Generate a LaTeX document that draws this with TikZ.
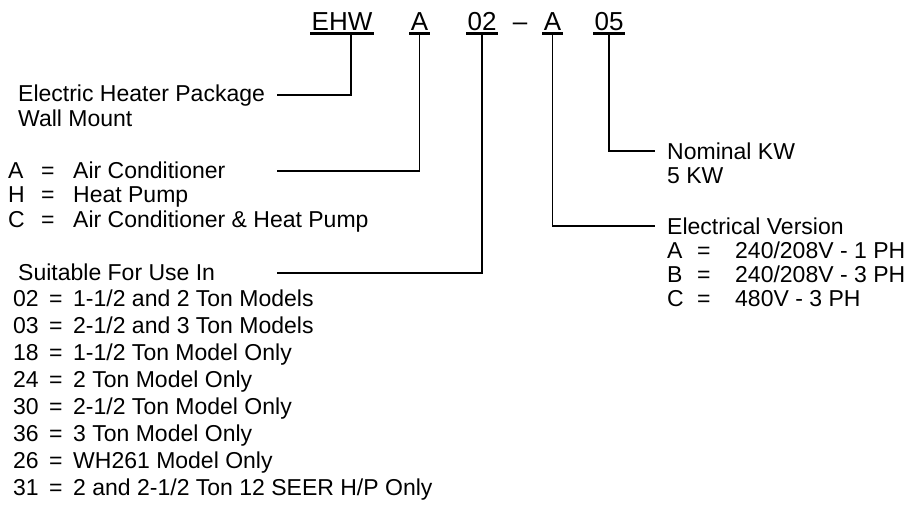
\documentclass[tikz,border=0pt]{standalone}
\usepackage{fontspec}
\setmainfont{Liberation Sans}
\newcommand\kvline[4]{\makebox[#2][l]{#1}\makebox[#3][l]{=}#4}
\begin{document}
\begin{tikzpicture}[x=1pt,y=-1pt,
  lbl/.style={anchor=base west,inner sep=0pt,font=\fontsize{23}{27}\selectfont},
  code/.style={anchor=base,inner xsep=1.2pt,inner ysep=0pt,text depth=3pt,font=\fontsize{26}{30}\selectfont},
  ul/.style={line width=2.6pt},
  conn/.style={line width=1.5pt}]
\useasboundingbox (0,0) rectangle (912,508);
% code row
\node[code] (ehw) at (342,30.5) {EHW};
\node[code] (a1)  at (419.5,30.5) {A};
\node[code] (n02) at (482,30.5) {02};
\node[code,inner ysep=0pt,text depth=0pt] (dash) at (520,30.5) {–};
\node[code] (a2)  at (552.5,30.5) {A};
\node[code] (n05) at (609,30.5) {05};
\foreach \n in {ehw,a1,n02,a2,n05}{
  \draw[ul] (\n.south west) -- (\n.south east);
}
% left labels
\node[lbl] (elec) at (18,102) {Electric Heater Package};
\node[lbl] (wall) at (18,126) {Wall Mount};
\node[lbl] (ac) at (8,178) {\kvline{A}{33pt}{32pt}{Air Conditioner}};
\node[lbl] (hp) at (8,202.5) {\kvline{H}{33pt}{32pt}{Heat Pump}};
\node[lbl] (ach) at (8,227) {\kvline{C}{33pt}{32pt}{Air Conditioner \& Heat Pump}};
\node[lbl] (suit) at (18,280) {Suitable For Use In};
\node[lbl] (s02) at (13,306) {\kvline{02}{36pt}{24pt}{1-1/2 and 2 Ton Models}};
\node[lbl] (s03) at (13,333) {\kvline{03}{36pt}{24pt}{2-1/2 and 3 Ton Models}};
\node[lbl] (s18) at (13,360) {\kvline{18}{36pt}{24pt}{1-1/2 Ton Model Only}};
\node[lbl] (s24) at (13,387) {\kvline{24}{36pt}{24pt}{2 Ton Model Only}};
\node[lbl] (s30) at (13,414) {\kvline{30}{36pt}{24pt}{2-1/2 Ton Model Only}};
\node[lbl] (s36) at (13,441) {\kvline{36}{36pt}{24pt}{3 Ton Model Only}};
\node[lbl] (s26) at (13,468) {\kvline{26}{36pt}{24pt}{WH261 Model Only}};
\node[lbl] (s31) at (13,495) {\kvline{31}{36pt}{24pt}{2 and 2-1/2 Ton 12 SEER H/P Only}};
% right labels
\node[lbl] (nom) at (667,159) {Nominal KW};
\node[lbl] (kw5) at (667,183) {5 KW};
\node[lbl] (ev) at (667,234) {Electrical Version};
\node[lbl] (evA) at (667,258) {\kvline{A}{30pt}{38pt}{240/208V - 1 PH}};
\node[lbl] (evB) at (667,282) {\kvline{B}{30pt}{38pt}{240/208V - 3 PH}};
\node[lbl] (evC) at (667,306) {\kvline{C}{30pt}{38pt}{480V - 3 PH}};
% connector ends
\coordinate (elecEnd) at (277,95);
\coordinate (acEnd) at (277,171);
\coordinate (suitEnd) at (277,273);
\coordinate (kwEnd) at (655,151);
\coordinate (evEnd) at (655,226);
% connectors
\draw[conn] ([xshift=9pt]ehw.south) |- (elecEnd);
\draw[conn] (a1.south) |- (acEnd);
\draw[conn] (n02.south) |- (suitEnd);
\draw[conn] (a2.south) |- (evEnd);
\draw[conn] (n05.south) |- (kwEnd);
\end{tikzpicture}
\end{document}
